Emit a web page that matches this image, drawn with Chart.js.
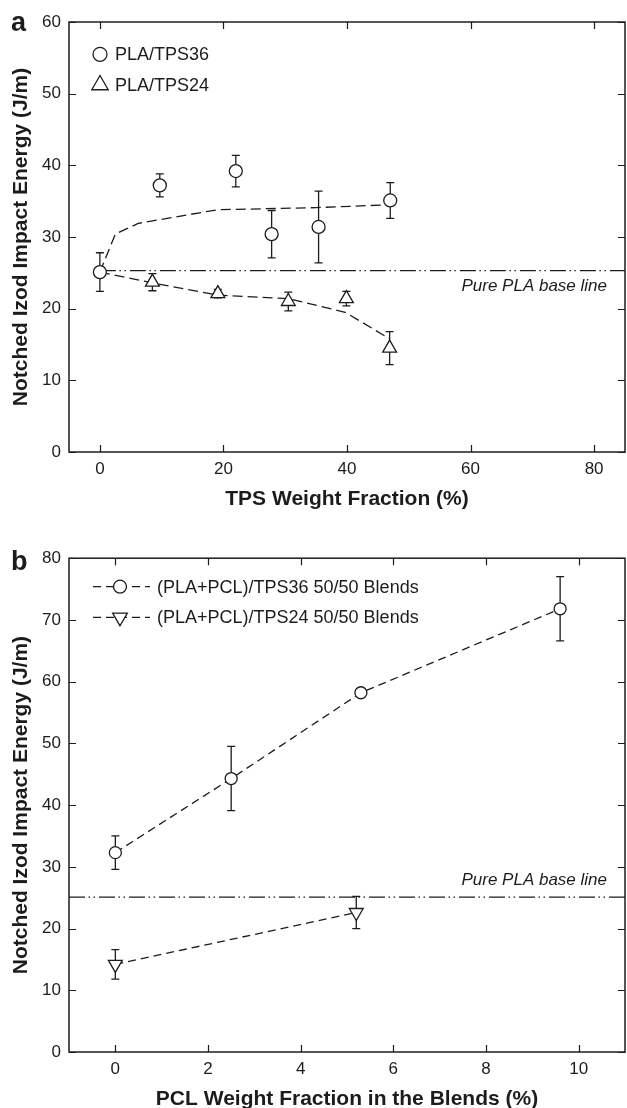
<!DOCTYPE html>
<html><head><meta charset="utf-8">
<script src="https://cdn.jsdelivr.net/npm/chart.js@4.4.0/dist/chart.umd.min.js"></script>
<style>
html,body{margin:0;padding:0;background:#fff;}
#wrap{position:relative;width:627px;height:1108px;overflow:hidden;}
canvas{position:absolute;left:0;}
</style></head><body>
<div id="wrap">
<canvas id="ca" width="627" height="540" style="top:0;width:627px;height:540px"></canvas>
<canvas id="cb" width="627" height="568" style="top:540px;width:627px;height:568px"></canvas>
</div>
<script>
// ---------- Panel a data ----------
const aX36 = [0, 9.7, 22.0, 27.8, 35.4, 47.0];
const aY36 = [25.1, 37.2, 39.2, 30.4, 31.4, 35.1];
const aE36 = [2.7, 1.6, 2.2, 3.3, 5.0, 2.5];
const aX24 = [8.5, 19.1, 30.5, 39.9, 46.9];
const aY24 = [23.7, 22.1, 21.0, 21.4, 14.5];
const aE24 = [1.2, 0.6, 1.3, 1.0, 2.3];
const aTrendX36 = [0, 2.5, 6.2, 19.0, 35.0, 47.0];
const aTrendY36 = [25.1, 30.4, 31.9, 33.8, 34.1, 34.5];
const aTrendX24 = [0, 8.5, 19.1, 30.5, 39.7, 46.9];
const aTrendY24 = [25.1, 23.6, 21.9, 21.4, 19.5, 15.8];
const aBaseX = [0, 85];
const aBaseY = [25.3, 25.3];
const aXTicks = [0, 20, 40, 60, 80];
const aYTicks = [0, 10, 20, 30, 40, 50, 60];
const aLabels = ['PLA/TPS36', 'PLA/TPS24'];

// ---------- Panel b data ----------
const bX36 = [0, 2.5, 5.3, 9.6];
const bY36 = [32.3, 44.3, 58.2, 71.8];
const bE36 = [2.7, 5.2, 0, 5.2];
const bX24 = [0, 5.2];
const bY24 = [14.2, 22.6];
const bE24 = [2.4, 2.6];
const bBaseX = [-1, 11];
const bBaseY = [25.1, 25.1];
const bXTicks = [0, 2, 4, 6, 8, 10];
const bYTicks = [0, 10, 20, 30, 40, 50, 60, 70, 80];
const bLabels = ['(PLA+PCL)/TPS36 50/50 Blends', '(PLA+PCL)/TPS24 50/50 Blends'];

const yTitle = 'Notched Izod Impact Energy (J/m)';
const aXTitle = 'TPS Weight Fraction (%)';
const bXTitle = 'PCL Weight Fraction in the Blends (%)';
const baseText = 'Pure PLA base line';

const FF = '"Liberation Sans", Arial, Helvetica, sans-serif';
const ink = '#1c1c1c';
const zip = (xs, ys) => xs.map((x, i) => ({x: x, y: ys[i]}));

function makePlugin(cfg) {
  return {
    id: 'panel' + cfg.letter,
    beforeDatasetsDraw(chart) {
      const ctx = chart.ctx, xs = chart.scales.x, ys = chart.scales.y;
      ctx.save();
      ctx.strokeStyle = ink; ctx.lineWidth = 1.3; ctx.setLineDash([]);
      cfg.errors.forEach(e => {
        e.x.forEach((xv, i) => {
          const err = e.err[i];
          if (!err) return;
          const px = xs.getPixelForValue(xv);
          const t = ys.getPixelForValue(e.y[i] + err);
          const b = ys.getPixelForValue(e.y[i] - err);
          ctx.beginPath();
          ctx.moveTo(px, t); ctx.lineTo(px, b);
          ctx.moveTo(px - 4, t); ctx.lineTo(px + 4, t);
          ctx.moveTo(px - 4, b); ctx.lineTo(px + 4, b);
          ctx.stroke();
        });
      });
      ctx.restore();
    },
    afterDraw(chart) {
      const ctx = chart.ctx, a = chart.chartArea, xs = chart.scales.x, ys = chart.scales.y;
      ctx.save();
      ctx.setLineDash([]);
      ctx.strokeStyle = ink; ctx.lineWidth = 1.5;
      ctx.strokeRect(a.left, a.top, a.right - a.left, a.bottom - a.top);
      ctx.lineWidth = 1.2;
      ctx.beginPath();
      cfg.xTicks.forEach(v => {
        const p = Math.round(xs.getPixelForValue(v)) + 0.5;
        ctx.moveTo(p, a.bottom); ctx.lineTo(p, a.bottom - 7);
        ctx.moveTo(p, a.top); ctx.lineTo(p, a.top + 7);
      });
      cfg.yTicks.forEach(v => {
        const p = Math.round(ys.getPixelForValue(v)) + 0.5;
        ctx.moveTo(a.left, p); ctx.lineTo(a.left + 7, p);
        ctx.moveTo(a.right, p); ctx.lineTo(a.right - 7, p);
      });
      ctx.stroke();
      // titles
      ctx.fillStyle = ink;
      ctx.font = 'bold 21px ' + FF;
      ctx.textAlign = 'center'; ctx.textBaseline = 'alphabetic';
      ctx.fillText(cfg.xTitle, (a.left + a.right) / 2, a.bottom + 53);
      ctx.save();
      ctx.translate(27, (a.top + a.bottom) / 2);
      ctx.rotate(-Math.PI / 2);
      ctx.fillText(cfg.yTitle, 0, 0);
      ctx.restore();
      // panel letter
      ctx.font = 'bold 27px ' + FF;
      ctx.textAlign = 'left';
      ctx.fillText(cfg.letter, 11, cfg.letterY);
      // baseline label
      ctx.font = 'italic 17px ' + FF;
      ctx.textAlign = 'right';
      ctx.fillText(cfg.baseLabel, 607, ys.getPixelForValue(cfg.baseY) + cfg.baseDy);
      // legend
      cfg.legend.forEach(it => {
        const ds = chart.data.datasets[it.ds];
        if (cfg.legendLine) {
          ctx.save();
          ctx.strokeStyle = ink; ctx.lineWidth = 1.3;
          ctx.setLineDash(ds.borderDash || []);
          ctx.beginPath();
          ctx.moveTo(cfg.legendLine[0], it.y); ctx.lineTo(cfg.legendLine[1], it.y);
          ctx.stroke();
          ctx.restore();
        }
        ctx.save();
        ctx.setLineDash([]);
        ctx.fillStyle = '#fff'; ctx.strokeStyle = ink; ctx.lineWidth = 1.3;
        Chart.helpers.drawPoint(ctx, {pointStyle: ds.pointStyle, rotation: ds.pointRotation || 0, radius: it.r, borderWidth: 1.3}, cfg.legendMarkerX, it.y);
        ctx.restore();
        ctx.fillStyle = ink;
        ctx.font = '18px ' + FF;
        ctx.textAlign = 'left'; ctx.textBaseline = 'middle';
        ctx.fillText(ds.label, cfg.legendTextX, it.y + 1);
        ctx.textBaseline = 'alphabetic';
      });
      ctx.restore();
    }
  };
}

function scales(xMin, xMax, xT, yMin, yMax, yT, xH) {
  const tickFont = {family: FF, size: 17};
  return {
    x: {type: 'linear', min: xMin, max: xMax,
        afterBuildTicks: s => { s.ticks = xT.map(v => ({value: v})); },
        afterFit: s => { s.height = xH; },
        grid: {display: false, drawTicks: false}, border: {display: false},
        ticks: {font: tickFont, color: ink, padding: 7, maxRotation: 0, autoSkip: false}},
    y: {type: 'linear', min: yMin, max: yMax,
        afterBuildTicks: s => { s.ticks = yT.map(v => ({value: v})); },
        afterFit: s => { s.width = 69; },
        grid: {display: false, drawTicks: false}, border: {display: false},
        ticks: {font: tickFont, color: ink, padding: 8, autoSkip: false}}
  };
}

const common = {
  responsive: false, animation: false, devicePixelRatio: 1, events: [],
  plugins: {legend: {display: false}, tooltip: {enabled: false}}
};

// ---------- Chart a ----------
new Chart(document.getElementById('ca'), {
  type: 'scatter',
  data: {datasets: [
    {label: aLabels[0], data: zip(aX36, aY36), showLine: false, pointStyle: 'circle', pointRadius: 6.5,
     pointBackgroundColor: '#fff', pointBorderColor: ink, pointBorderWidth: 1.3, order: 0},
    {label: aLabels[1], data: zip(aX24, aY24), showLine: false, pointStyle: 'triangle', pointRadius: 8,
     pointBackgroundColor: '#fff', pointBorderColor: ink, pointBorderWidth: 1.3, order: 0},
    {label: 'trend36', data: zip(aTrendX36, aTrendY36), showLine: true, pointRadius: 0, borderColor: ink,
     borderWidth: 1.3, borderDash: [10, 5], tension: 0, order: 2},
    {label: 'trend24', data: zip(aTrendX24, aTrendY24), showLine: true, pointRadius: 0, borderColor: ink,
     borderWidth: 1.3, borderDash: [10, 5], tension: 0, order: 2},
    {label: 'base', data: zip(aBaseX, aBaseY), showLine: true, pointRadius: 0, borderColor: ink,
     borderWidth: 1.2, borderDash: [16, 3.5, 1.5, 3.5, 1.5, 4], order: 3}
  ]},
  options: Object.assign({}, common, {
    layout: {autoPadding: false, padding: {top: 22, right: 2, left: 0, bottom: 0}},
    scales: scales(-5, 85, aXTicks, 0, 60, aYTicks, 88)
  }),
  plugins: [makePlugin({
    letter: 'a', letterY: 31, xTicks: aXTicks, yTicks: aYTicks, xTitle: aXTitle, yTitle: yTitle,
    baseLabel: baseText, baseY: aBaseY[0], baseDy: 20,
    errors: [{x: aX36, y: aY36, err: aE36}, {x: aX24, y: aY24, err: aE24}],
    legend: [{ds: 0, y: 54.3, r: 7}, {ds: 1, y: 85, r: 9.5}],
    legendLine: null, legendMarkerX: 100, legendTextX: 115
  })]
});

// ---------- Chart b ----------
new Chart(document.getElementById('cb'), {
  type: 'scatter',
  data: {datasets: [
    {label: bLabels[0], data: zip(bX36, bY36), showLine: true, pointStyle: 'circle', pointRadius: 6,
     pointBackgroundColor: '#fff', pointBorderColor: ink, pointBorderWidth: 1.3,
     borderColor: ink, borderWidth: 1.3, borderDash: [8, 5], tension: 0, order: 0},
    {label: bLabels[1], data: zip(bX24, bY24), showLine: true, pointStyle: 'triangle', pointRotation: 180, pointRadius: 8,
     pointBackgroundColor: '#fff', pointBorderColor: ink, pointBorderWidth: 1.3,
     borderColor: ink, borderWidth: 1.3, borderDash: [8, 5], tension: 0, order: 0},
    {label: 'base', data: zip(bBaseX, bBaseY), showLine: true, pointRadius: 0, borderColor: ink,
     borderWidth: 1.2, borderDash: [16, 3.5, 1.5, 3.5, 1.5, 4], order: 3}
  ]},
  options: Object.assign({}, common, {
    layout: {autoPadding: false, padding: {top: 15, right: 2, left: 0, bottom: 0}},
    scales: scales(-1, 11, bXTicks, 0, 80, bYTicks, 56)
  }),
  plugins: [makePlugin({
    letter: 'b', letterY: 30, xTicks: bXTicks, yTicks: bYTicks, xTitle: bXTitle, yTitle: yTitle,
    baseLabel: baseText, baseY: bBaseY[0], baseDy: -12,
    errors: [{x: bX36, y: bY36, err: bE36}, {x: bX24, y: bY24, err: bE24}],
    legend: [{ds: 0, y: 46.7, r: 6.5}, {ds: 1, y: 77.3, r: 8.5}],
    legendLine: [93, 150], legendMarkerX: 120, legendTextX: 157
  })]
});
</script>
</body></html>
